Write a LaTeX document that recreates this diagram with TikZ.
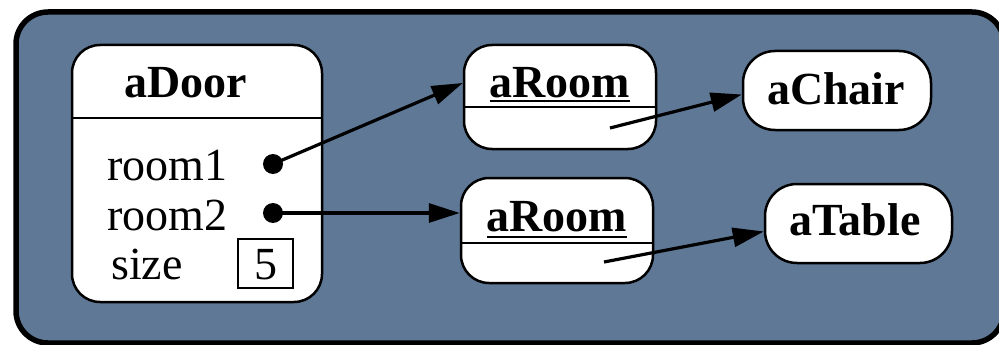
\documentclass[tikz,border=0pt]{standalone}
\usepackage{fontspec}
\setmainfont{Liberation Serif}
\usetikzlibrary{arrows.meta,calc}
\definecolor{bgblue}{RGB}{94,120,150}
\tikzset{
  objbox/.style={draw=black, fill=white, line width=2.5pt, rounded corners=28pt, inner sep=0pt},
  lbl/.style={anchor=base, inner sep=0pt, font=\fontsize{46}{50}\selectfont},
  ttl/.style={anchor=base, inner sep=0pt, font=\fontsize{46}{50}\selectfont\bfseries},
  sepline/.style={line width=2.5pt},
  uline/.style={line width=1.8pt},
  refdot/.style={circle, fill=black, inner sep=0pt, minimum size=20pt},
  arr/.style={line width=3.2pt, -{Triangle[length=31pt,width=19pt]}},
  valbox/.style={draw=black, line width=1.8pt, fill=white, inner sep=0pt, minimum width=55pt, minimum height=49pt}
}
\begin{document}
\begin{tikzpicture}[x=1pt,y=-1pt]
\useasboundingbox (0,0) rectangle (999,345);
\clip (0,0) rectangle (999,345);
% frame
\draw[line width=5.5pt, fill=bgblue, rounded corners=32pt] (16,12) rectangle (1004,343);
% aDoor
\node[objbox, minimum width=250pt, minimum height=257pt] (door) at (197,173.5) {};
\coordinate (dsep) at (0,118);
\draw[sepline] (door.west |- dsep) -- (door.east |- dsep);
\node[ttl] (doortxt) at (186,98) {aDoor};
\node[lbl, anchor=base west] (room1) at (107,180) {room1};
\node[lbl, anchor=base west] (room2) at (107,230) {room2};
\node[lbl, anchor=base west] (size) at (111,279) {size};
\node[valbox] (val) at (265.5,263.5) {};
\node[lbl] (valtxt) at (265.5,279) {5};
\node[refdot] (dot1) at (273,164) {};
\node[refdot] (dot2) at (273,213) {};
% aRoom 1
\node[objbox, minimum width=192pt, minimum height=104pt] (r1) at (560,97) {};
\coordinate (r1sep) at (0,107);
\draw[sepline] (r1.west |- r1sep) -- (r1.east |- r1sep);
\node[ttl] (r1txt) at (560,98) {aRoom};
\draw[uline] ($(r1txt.base west)+(0,3)$) -- ($(r1txt.base east)+(0,3)$);
% aRoom 2
\node[objbox, minimum width=192pt, minimum height=105pt] (r2) at (557,230.5) {};
\coordinate (r2sep) at (0,243);
\draw[sepline] (r2.west |- r2sep) -- (r2.east |- r2sep);
\node[ttl] (r2txt) at (557,231) {aRoom};
\draw[uline] ($(r2txt.base west)+(0,6)$) -- ($(r2txt.base east)+(0,6)$);
% aChair
\node[objbox, rounded corners=32pt, minimum width=188pt, minimum height=79pt] (chair) at (837,90.5) {};
\node[ttl] (chairtxt) at (836,104) {aChair};
% aTable
\node[objbox, rounded corners=32pt, minimum width=187pt, minimum height=79pt] (table) at (858.5,223.5) {};
\node[ttl] (tabletxt) at (855,235) {aTable};
% connectors
\coordinate (tip1) at ($(r1.west)+(0,-14)$);
\coordinate (tip2) at (r2.west |- dot2);
\coordinate (src3) at (610,128);
\coordinate (tip3) at ($(chair.west)+(0,4)$);
\coordinate (src4) at (604,262);
\coordinate (tip4) at ($(table.west)+(0,8)$);
\draw[arr] (dot1.center) -- (tip1);
\draw[arr] (dot2.center) -- (tip2);
\draw[arr] (src3) -- (tip3);
\draw[arr] (src4) -- (tip4);
\end{tikzpicture}
\end{document}
